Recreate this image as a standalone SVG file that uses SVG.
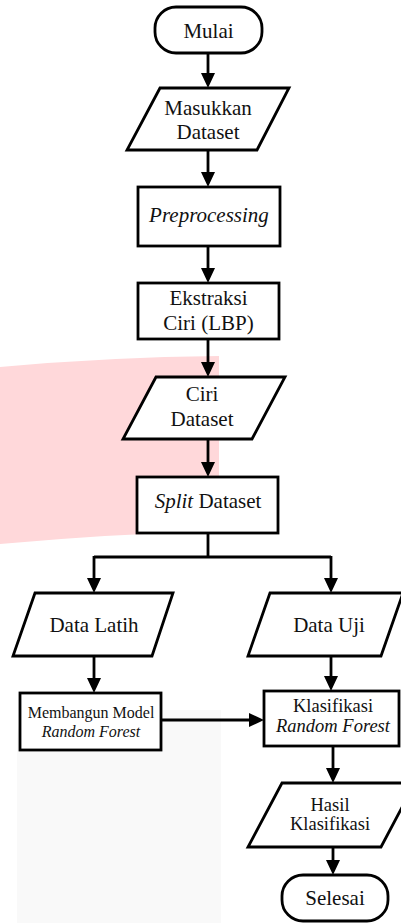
<svg xmlns="http://www.w3.org/2000/svg" width="401" height="923" viewBox="0 0 401 923">
<style>
.n{fill:#fff;stroke:#000;stroke-width:2.8;stroke-linejoin:miter}
.t{font-family:"Liberation Serif","Times New Roman",serif;font-size:21px;fill:#111;text-anchor:middle}
.s{font-size:18.5px}
.xs{font-size:16px}
.i{font-style:italic}
.c{fill:none;stroke:#000;stroke-width:2.8}
</style>
<defs>
<marker id="ah" markerUnits="userSpaceOnUse" markerWidth="16" markerHeight="14" refX="0" refY="7" orient="auto">
<path d="M0,0 L15,7 L0,14 z" fill="#000"/>
</marker>
</defs>
<rect width="401" height="923" fill="#fff"/>
<g id="watermark">
<path d="M0,367 Q110,357 219,356 L219,531 Q110,534 0,544 Z" fill="#FFD8DA"/>
<path d="M17,923 L17,740 Q17,712 40,710 L221,710 L221,923 Z" fill="#F9F9F9"/>
</g>
<g id="connectors">
<line class="c" x1="208" y1="53" x2="208" y2="73" marker-end="url(#ah)"/>
<line class="c" x1="208" y1="150" x2="208" y2="172" marker-end="url(#ah)"/>
<line class="c" x1="208" y1="246" x2="208" y2="268" marker-end="url(#ah)"/>
<line class="c" x1="208" y1="339" x2="208" y2="362" marker-end="url(#ah)"/>
<line class="c" x1="208" y1="439" x2="208" y2="462" marker-end="url(#ah)"/>
<path class="c" d="M208,533 V557 M94,557 H331"/>
<line class="c" x1="94" y1="556" x2="94" y2="578" marker-end="url(#ah)"/>
<line class="c" x1="331" y1="556" x2="331" y2="578" marker-end="url(#ah)"/>
<line class="c" x1="94" y1="656" x2="94" y2="678" marker-end="url(#ah)"/>
<line class="c" x1="331" y1="656" x2="331" y2="676" marker-end="url(#ah)"/>
<line class="c" x1="161" y1="720" x2="249" y2="720" marker-end="url(#ah)"/>
<line class="c" x1="333" y1="746" x2="333" y2="768" marker-end="url(#ah)"/>
<line class="c" x1="333" y1="847" x2="333" y2="860" marker-end="url(#ah)"/>
</g>
<g id="mulai">
<rect class="n" x="155" y="7" width="107" height="46" rx="21" ry="21"/>
<text class="t" x="208.5" y="38">Mulai</text>
</g>
<g id="masukkan">
<polygon class="n" points="160,88 289,88 257,150 127,150"/>
<text class="t" x="208" y="115">Masukkan</text>
<text class="t" x="208" y="139">Dataset</text>
</g>
<g id="preprocessing">
<rect class="n" x="138" y="187" width="142" height="59"/>
<text class="t i" x="209" y="222">Preprocessing</text>
</g>
<g id="ekstraksi">
<rect class="n" x="138" y="283" width="141" height="56"/>
<text class="t" x="208.5" y="305">Ekstraksi</text>
<text class="t" x="208.5" y="330">Ciri (LBP)</text>
</g>
<g id="ciri">
<polygon class="n" points="156,377 285,377 252,439 123,439"/>
<text class="t" x="202" y="401">Ciri</text>
<text class="t" x="202" y="426">Dataset</text>
</g>
<g id="split">
<rect class="n" x="137" y="477" width="141" height="56"/>
<text class="t" x="208" y="508"><tspan class="i">Split</tspan> Dataset</text>
</g>
<g id="datalatih">
<polygon class="n" points="35,593 173,593 152,656 13,656"/>
<text class="t" x="94" y="632">Data Latih</text>
</g>
<g id="datauji">
<polygon class="n" points="270,593 403,593 381,656 248,656"/>
<text class="t" x="329" y="632">Data Uji</text>
</g>
<g id="membangun">
<rect class="n" x="20" y="693" width="141" height="57"/>
<text class="t xs" x="91" y="718">Membangun Model</text>
<text class="t xs i" x="91" y="737">Random Forest</text>
</g>
<g id="klasifikasi">
<rect class="n" x="264" y="691" width="135" height="55"/>
<text class="t s" x="333" y="712">Klasifikasi</text>
<text class="t s i" x="333" y="732">Random Forest</text>
</g>
<g id="hasil">
<polygon class="n" points="282,783 415,783 381,847 248,847"/>
<text class="t s" x="330" y="811">Hasil</text>
<text class="t s" x="330" y="830">Klasifikasi</text>
</g>
<g id="selesai">
<rect class="n" x="282" y="875" width="106" height="46" rx="21" ry="21"/>
<text class="t" x="335" y="905">Selesai</text>
</g>
</svg>
